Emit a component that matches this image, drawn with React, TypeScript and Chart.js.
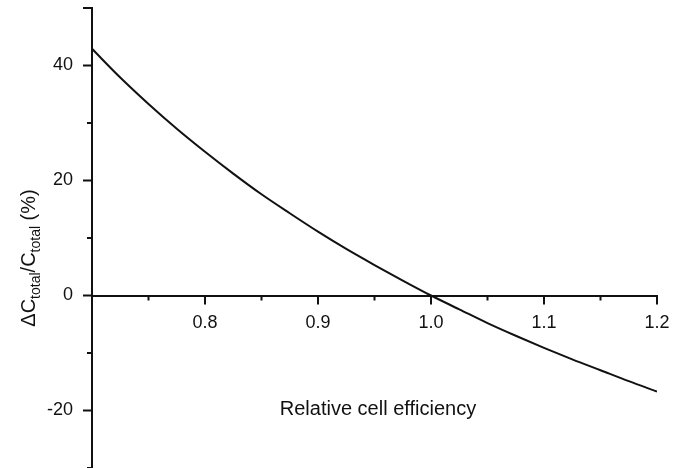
import React, { useEffect, useRef } from "react";
import { Chart, registerables } from "chart.js";

Chart.register(...registerables);

const efficiency = [0.7, 0.725, 0.75, 0.775, 0.8, 0.825, 0.85, 0.875, 0.9, 0.925, 0.95, 0.975, 1.0, 1.025, 1.05, 1.075, 1.1, 1.125, 1.15, 1.175, 1.2];
const deltaCost = [42.9, 37.9, 33.3, 29.0, 25.0, 21.2, 17.6, 14.3, 11.1, 8.1, 5.3, 2.6, 0.0, -2.4, -4.8, -7.0, -9.1, -11.1, -13.0, -14.9, -16.7];
const xMajorTicks = [0.8, 0.9, 1.0, 1.1, 1.2];
const xMinorTicks = [0.75, 0.85, 0.95, 1.05, 1.15];
const yMajorTicks = [50, 40, 20, 0, -20];
const yMinorTicks = [30, 10, -10, -30];
const yLabelValues = [40, 20, 0, -20];
const xTitle = "Relative cell efficiency";

const FONT = "'Liberation Sans', Arial, Helvetica, sans-serif";
const INK = "#111";

const axisDecor = {
  id: "axisDecor",
  afterDraw(chart: any) {
    const { ctx, scales } = chart;
    const xs = scales.x;
    const ys = scales.y;
    const y0 = ys.getPixelForValue(0);
    const xAxis = xs.getPixelForValue(0.7);
    ctx.save();
    ctx.strokeStyle = INK;
    ctx.lineWidth = 2;
    ctx.beginPath();
    xMajorTicks.forEach((v) => {
      const px = xs.getPixelForValue(v);
      ctx.moveTo(px, y0);
      ctx.lineTo(px, y0 + 9);
    });
    xMinorTicks.forEach((v) => {
      const px = xs.getPixelForValue(v);
      ctx.moveTo(px, y0);
      ctx.lineTo(px, y0 + 5);
    });
    yMajorTicks.forEach((v) => {
      const py = ys.getPixelForValue(v);
      ctx.moveTo(xAxis, py);
      ctx.lineTo(xAxis - 9, py);
    });
    yMinorTicks.forEach((v) => {
      const py = ys.getPixelForValue(v);
      ctx.moveTo(xAxis, py);
      ctx.lineTo(xAxis - 5, py);
    });
    ctx.stroke();

    // x title
    ctx.fillStyle = INK;
    ctx.font = `20px ${FONT}`;
    ctx.textAlign = "center";
    ctx.textBaseline = "alphabetic";
    ctx.fillText(xTitle, 378, 415);

    // y title (rotated, with subscripts)
    const segs: [string, boolean][] = [
      ["\u0394C", false],
      ["total", true],
      ["/C", false],
      ["total", true],
      [" (%)", false],
    ];
    const big = `20px ${FONT}`;
    const small = `14px ${FONT}`;
    let total = 0;
    segs.forEach(([t, sub]) => {
      ctx.font = sub ? small : big;
      total += ctx.measureText(t).width;
    });
    ctx.translate(35, 258);
    ctx.rotate(-Math.PI / 2);
    ctx.textAlign = "left";
    let x = -total / 2;
    segs.forEach(([t, sub]) => {
      ctx.font = sub ? small : big;
      ctx.fillText(t, x, sub ? 5 : 0);
      x += ctx.measureText(t).width;
    });
    ctx.restore();
  },
};

export default function App() {
  const ref = useRef<HTMLCanvasElement | null>(null);
  useEffect(() => {
    if (!ref.current) return;
    const chart = new Chart(ref.current, {
      type: "line",
      data: {
        datasets: [
          {
            data: efficiency.map((e, i) => ({ x: e, y: deltaCost[i] })),
            borderColor: INK,
            borderWidth: 2,
            pointRadius: 0,
            fill: false,
            cubicInterpolationMode: "monotone",
          },
        ],
      },
      options: {
        animation: false,
        responsive: false,
        layout: { padding: { left: 0, top: 8, right: 27, bottom: 0 } },
        plugins: { legend: { display: false }, tooltip: { enabled: false } },
        scales: {
          x: {
            type: "linear",
            position: { y: 0 } as any,
            min: 0.7,
            max: 1.2,
            grid: { display: false, drawTicks: false },
            border: { display: true, color: INK, width: 2 },
            afterFit: (s: any) => {
              s.height = 0;
              s.paddingLeft = 0;
              s.paddingRight = 0;
              s.paddingTop = 0;
              s.paddingBottom = 0;
            },
            ticks: {
              stepSize: 0.1,
              autoSkip: false,
              maxRotation: 0,
              padding: 17,
              color: INK,
              font: { family: FONT, size: 18 },
              callback: (v: any) => {
                const r = Math.round(Number(v) * 10) / 10;
                return xMajorTicks.includes(r) ? r.toFixed(1) : "";
              },
            },
          },
          y: {
            type: "linear",
            min: -30,
            max: 50,
            grid: { display: false, drawTicks: false },
            border: { display: true, color: INK, width: 2 },
            afterFit: (s: any) => {
              s.width = 92;
              s.paddingTop = 0;
              s.paddingBottom = 0;
              s.paddingLeft = 0;
              s.paddingRight = 0;
            },
            ticks: {
              stepSize: 10,
              autoSkip: false,
              padding: 19,
              color: INK,
              font: { family: FONT, size: 18 },
              callback: (v: any) => {
                const r = Math.round(Number(v));
                return yLabelValues.includes(r) ? String(r) : "";
              },
            },
          },
        },
      },
      plugins: [axisDecor],
    });
    return () => chart.destroy();
  }, []);
  return (
    <div style={{ position: "absolute", left: 0, top: 0, width: 684, height: 468, background: "#fff" }}>
      <canvas ref={ref} width={684} height={468} style={{ display: "block" }} />
    </div>
  );
}
